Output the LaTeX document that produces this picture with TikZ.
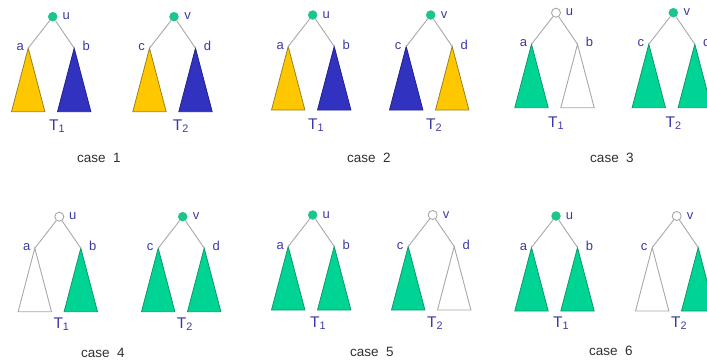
\documentclass[tikz,border=0pt]{standalone}
\usepackage{fontspec}
\setmainfont{Liberation Sans}
\definecolor{rootgreen}{HTML}{1EC48E}
\definecolor{tgreen}{HTML}{00D494}
\definecolor{tgreenline}{HTML}{109868}
\definecolor{tyellow}{HTML}{FFC700}
\definecolor{tyellowline}{HTML}{9A8020}
\definecolor{tblue}{HTML}{3232C0}
\definecolor{tblueline}{HTML}{22228A}
\definecolor{edgegray}{HTML}{A8A8A8}
\definecolor{lblblue}{HTML}{3A3AA6}
\definecolor{casegray}{HTML}{303030}
\tikzset{
  edge/.style={draw=edgegray, line width=0.9pt},
  rootfull/.style={circle, fill=rootgreen, inner sep=0pt, minimum size=9.5pt},
  rootempty/.style={circle, draw=edgegray, fill=white, line width=0.9pt, inner sep=0pt, minimum size=9pt},
  lbl/.style={text=lblblue, inner sep=0pt, anchor=base, font=\fontsize{13}{13}\selectfont},
  tlbl/.style={text=lblblue, inner sep=0pt, anchor=base west, font=\fontsize{15.5}{15.5}\selectfont},
  caselbl/.style={text=casegray, inner sep=0pt, anchor=base, font=\fontsize{13.5}{13.5}\selectfont},
  ytri/.style={fill=tyellow, draw=tyellowline, line width=0.8pt, line join=miter},
  btri/.style={fill=tblue, draw=tblueline, line width=0.8pt, line join=miter},
  gtri/.style={fill=tgreen, draw=tgreenline, line width=0.8pt, line join=miter},
  wtri/.style={fill=white, draw=edgegray, line width=0.9pt, line join=miter},
}
% #1 name, #2 x, #3 y, #4 root style, #5 left tri, #6 right tri, #7 root label, #8 left label, #9 right label
\newcommand\bintree[9]{%
  \node[#4] (#1r) at (#2,#3) {};
  \coordinate (#1a) at (#2-24.5,#3+31.5);
  \coordinate (#1b) at (#2+21.5,#3+31.5);
  \path[#5] (#1a) -- ++(-16.7,63.5) -- ++(33.4,0) -- cycle;
  \path[#6] (#1b) -- ++(-16.7,63.5) -- ++(33.4,0) -- cycle;
  \draw[edge] (#1r) -- (#1a);
  \draw[edge] (#1r) -- (#1b);
  \node[lbl] (#1rl) at (#2+13.5,#3+3) {#7};
  \node[lbl] (#1al) at (#2-32.5,#3+34) {#8};
  \node[lbl] (#1bl) at (#2+33.5,#3+34) {#9};
}
\newcommand\tlabel[4]{\node[tlbl] (#1) at (#2-5,#3) {T$_{\mathrm{#4}}$};}
\begin{document}
\begin{tikzpicture}[x=1pt,y=-1pt]
\useasboundingbox (0,0) rectangle (707,360);
\begin{scope}
\clip (0,0) rectangle (707,360);
% row 1
\bintree{ca}{52.7}{16.7}{rootfull}{ytri}{btri}{u}{a}{b}
\bintree{cb}{174}{16.7}{rootfull}{ytri}{btri}{v}{c}{d}
\bintree{cc}{312.7}{15}{rootfull}{ytri}{btri}{u}{a}{b}
\bintree{cd}{430.7}{15}{rootfull}{btri}{ytri}{v}{c}{d}
\bintree{ce}{556}{12.7}{rootempty}{gtri}{wtri}{u}{a}{b}
\bintree{cf}{673.3}{12.7}{rootfull}{gtri}{gtri}{v}{c}{d}
% row 2
\bintree{cg}{59.3}{216.7}{rootempty}{wtri}{gtri}{u}{a}{b}
\bintree{ch}{182.7}{216.7}{rootfull}{gtri}{gtri}{v}{c}{d}
\bintree{ci}{312.7}{215}{rootfull}{gtri}{gtri}{u}{a}{b}
\bintree{cj}{432.7}{215}{rootempty}{gtri}{wtri}{v}{c}{d}
\bintree{ck}{556}{216}{rootfull}{gtri}{gtri}{u}{a}{b}
\bintree{cl}{676.7}{216}{rootempty}{wtri}{gtri}{v}{c}{d}
% tree labels
\tlabel{ta1}{54}{130}{1}
\tlabel{ta2}{177.7}{130}{2}
\tlabel{tb1}{313}{129}{1}
\tlabel{tb2}{431}{129}{2}
\tlabel{tc1}{553}{127}{1}
\tlabel{tc2}{670.5}{127}{2}
\tlabel{td1}{58.3}{328}{1}
\tlabel{td2}{181.7}{328}{2}
\tlabel{te1}{315}{327}{1}
\tlabel{te2}{432}{327}{2}
\tlabel{tf1}{558}{327}{1}
\tlabel{tf2}{676}{327}{2}
% case labels
\node[caselbl] (k1) at (99,162) {case\ \ 1};
\node[caselbl] (k2) at (369,162) {case\ \ 2};
\node[caselbl] (k3) at (612,162) {case\ \ 3};
\node[caselbl] (k4) at (103,357) {case\ \ 4};
\node[caselbl] (k5) at (372,356) {case\ \ 5};
\node[caselbl] (k6) at (611,355) {case\ \ 6};
\end{scope}
\end{tikzpicture}
\end{document}
